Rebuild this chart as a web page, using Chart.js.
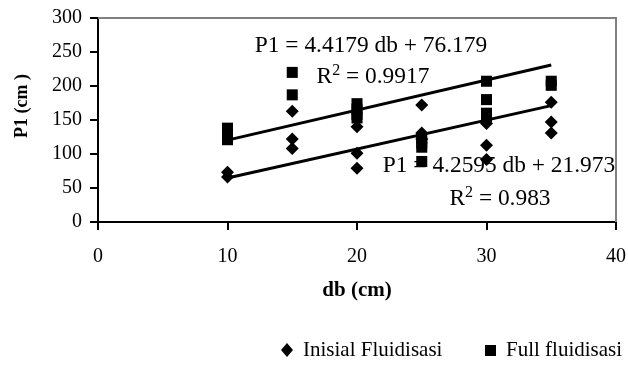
<!DOCTYPE html>
<html><head><meta charset="utf-8">
<script src="https://cdn.jsdelivr.net/npm/chart.js@4/dist/chart.umd.min.js"></script>
<style>html,body{margin:0;padding:0;background:#fff}#wrap{width:628px;height:368px}</style>
</head><body><div id="wrap"><canvas id="c" width="628" height="368"></canvas></div>
<script>
// Full fluidisasi (squares)
const fullDb = [10,10,10,15,15,20,20,20,20,25,25,25,25,30,30,30,30,35,35];
const fullP1 = [138,129,121,220,187,174,166,158,153,123,116,110,89,207,180,160,152,207,201];
// Inisial Fluidisasi (diamonds)
const initDb = [10,10,15,15,15,20,20,20,25,25,25,30,30,30,35,35,35];
const initP1 = [73,66,163,122,108,140,101,79,172,131,122,145,113,92,176,147,131];
// Trendline endpoints
const trendDb = [10,35];
const trendFull = [120.4,230.8];
const trendInit = [64.6,171.1];
// Labels
const seriesNames = ['Inisial Fluidisasi','Full fluidisasi'];
const eqFull = ['P1 = 4.4179 db + 76.179','0.9917'];
const eqInit = ['P1 = 4.2595 db + 21.973','0.983'];
const xTitle = 'db (cm)';
const yTitle = 'P1 (cm )';

const pts = (xs, ys) => xs.map((x,i)=>({x:x,y:ys[i]}));
const SERIF = '"Liberation Serif","Times New Roman",serif';

function txt(ctx, s, x, y, size, bold, align, sx){
  ctx.save();
  ctx.font = (bold?'bold ':'') + size + 'px ' + SERIF;
  ctx.fillStyle = '#000';
  ctx.textBaseline = 'middle';
  ctx.translate(x, y);
  ctx.scale(sx||1, 1);
  ctx.textAlign = align || 'center';
  ctx.fillText(s, 0, 0);
  ctx.restore();
}
function r2(ctx, val, cx, y, size){
  const sup = Math.round(size*0.68);
  ctx.save();
  ctx.font = size + 'px ' + SERIF;
  const wR = ctx.measureText('R').width;
  ctx.font = sup + 'px ' + SERIF;
  const w2 = ctx.measureText('2').width;
  ctx.font = size + 'px ' + SERIF;
  const rest = ' = ' + val;
  const wr = ctx.measureText(rest).width;
  const total = wR + w2 + wr;
  let x = cx - total/2;
  ctx.fillStyle = '#000';
  ctx.textBaseline = 'middle';
  ctx.textAlign = 'left';
  ctx.fillText('R', x, y); x += wR;
  ctx.font = sup + 'px ' + SERIF;
  ctx.fillText('2', x, y - size*0.25); x += w2;
  ctx.font = size + 'px ' + SERIF;
  ctx.fillText(rest, x, y);
  ctx.restore();
}

const deco = {
  id: 'deco',
  afterDraw(chart){
    const ctx = chart.ctx, a = chart.chartArea;
    ctx.save();
    ctx.strokeStyle = '#808080'; ctx.lineWidth = 2;
    ctx.beginPath();
    ctx.moveTo(a.left, a.top); ctx.lineTo(a.right, a.top); ctx.lineTo(a.right, a.bottom);
    ctx.stroke();
    ctx.restore();
    // equations
    txt(ctx, eqFull[0], 371, 46, 23.4, false, 'center');
    r2(ctx, eqFull[1], 373, 77, 23.4);
    txt(ctx, eqInit[0], 499, 166, 23.4, false, 'center');
    r2(ctx, eqInit[1], 500, 199, 23.4);
    // axis titles
    txt(ctx, xTitle, 357, 291, 21, true, 'center');
    ctx.save(); ctx.translate(22, 106); ctx.rotate(-Math.PI/2);
    txt(ctx, yTitle, 0, 0, 18, true, 'center');
    ctx.restore();
    // legend
    ctx.save(); ctx.fillStyle = '#000';
    const ly = 350;
    ctx.beginPath(); ctx.moveTo(287, ly-7); ctx.lineTo(293, ly); ctx.lineTo(287, ly+7); ctx.lineTo(281, ly); ctx.closePath(); ctx.fill();
    ctx.fillRect(485, ly-5, 11, 11);
    ctx.restore();
    txt(ctx, seriesNames[0], 303, ly, 21, false, 'left');
    txt(ctx, seriesNames[1], 506, ly, 21, false, 'left');
  }
};

new Chart(document.getElementById('c'), {
  type: 'scatter',
  data: {
    datasets: [
      {label: seriesNames[0], data: pts(initDb, initP1), pointStyle: 'rectRot', pointRadius: 6.5, backgroundColor:'#000', borderColor:'#000', borderWidth:0},
      {label: seriesNames[1], data: pts(fullDb, fullP1), pointStyle: 'rect', pointRadius: 7.8, backgroundColor:'#000', borderColor:'#000', borderWidth:0},
      {type:'line', label:'trendFull', data: pts(trendDb, trendFull), showLine:true, borderColor:'#000', borderWidth:3, pointRadius:0, fill:false},
      {type:'line', label:'trendInit', data: pts(trendDb, trendInit), showLine:true, borderColor:'#000', borderWidth:3, pointRadius:0, fill:false}
    ]
  },
  options: {
    responsive: false, animation: false, devicePixelRatio: 1,
    layout: {padding: {top: 18, right: 12, left: 0, bottom: 0}},
    plugins: {legend: {display:false}, tooltip: {enabled:false}},
    scales: {
      x: {
        type:'linear', min:0, max:40,
        ticks: {stepSize:10, color:'#000', font:{family:SERIF, size:20}, padding:15, maxRotation:0},
        grid: {drawOnChartArea:false, drawTicks:true, tickLength:8, color:'#000', lineWidth:2},
        border: {color:'#000', width:2},
        afterFit(s){ s.height = 146; s.paddingLeft = 0; s.paddingRight = 0; }
      },
      y: {
        min:0, max:300,
        ticks: {stepSize:50, color:'#000', font:{family:SERIF, size:20}, padding:8},
        grid: {drawOnChartArea:false, drawTicks:true, tickLength:8, color:'#000', lineWidth:2},
        border: {color:'#000', width:2},
        afterFit(s){ s.width = 98; s.paddingTop = 0; s.paddingBottom = 0; }
      }
    }
  },
  plugins: [deco]
});
</script></body></html>
